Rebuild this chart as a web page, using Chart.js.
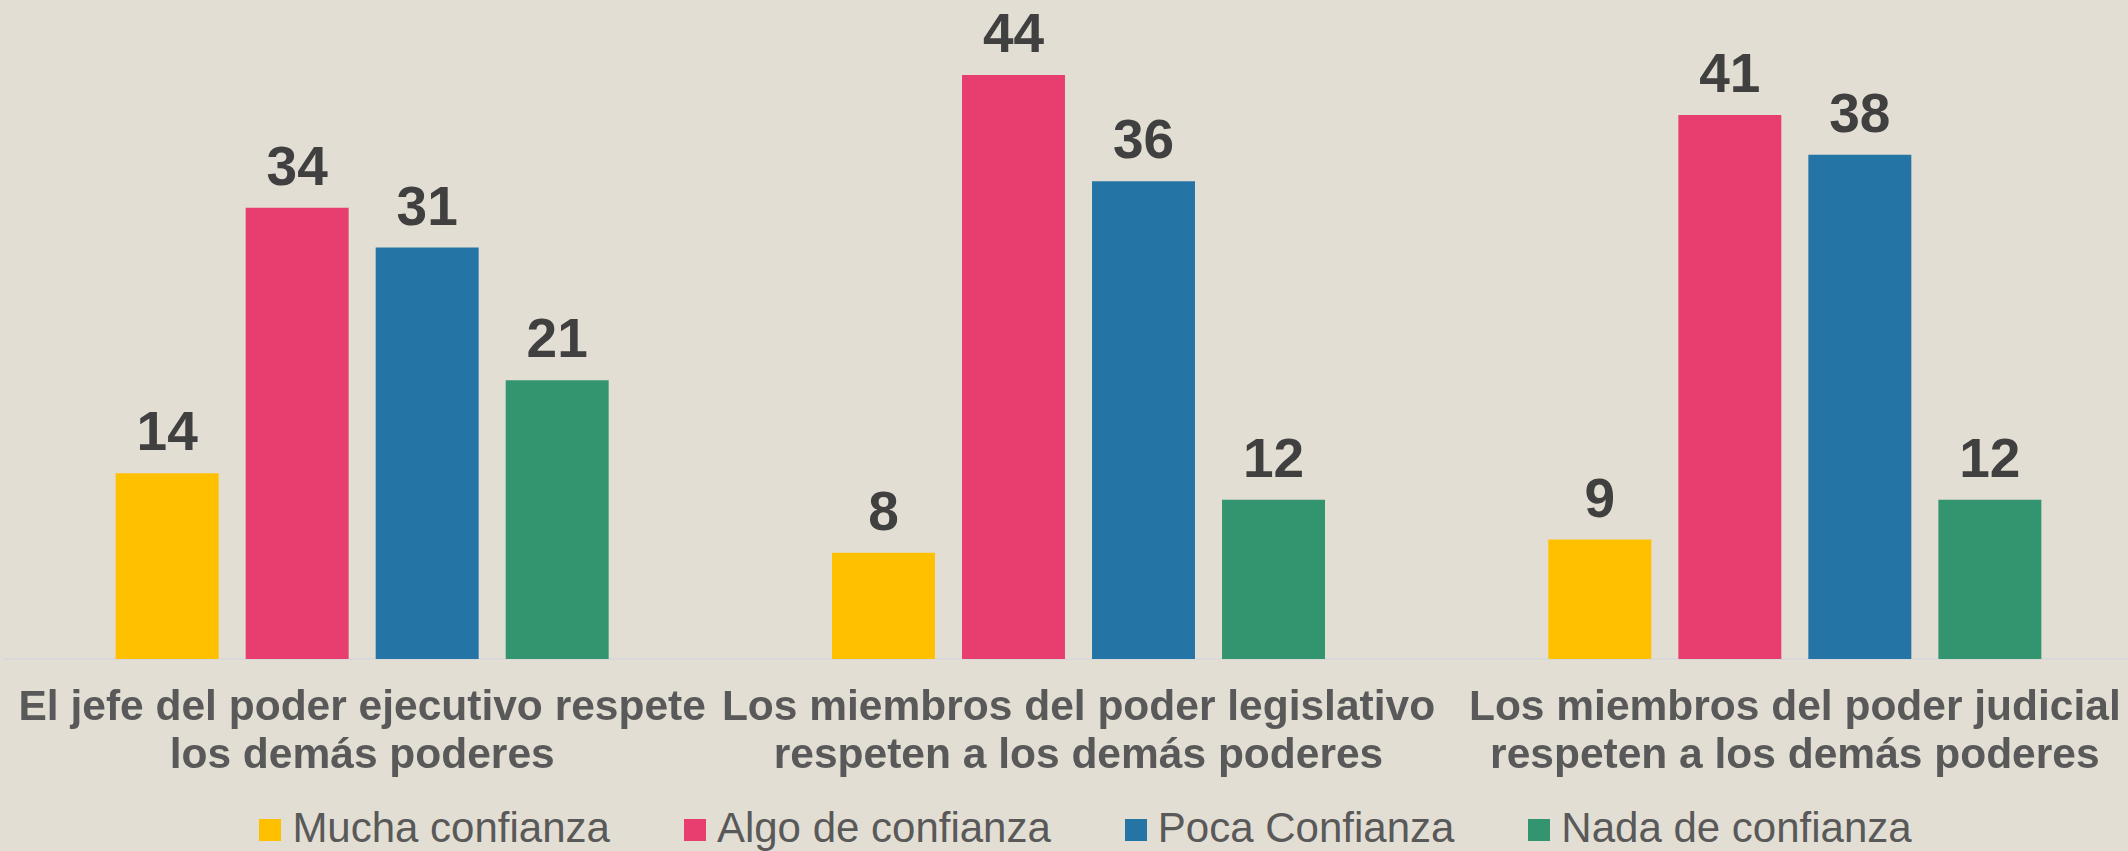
<!DOCTYPE html>
<html lang="es">
<head>
<meta charset="utf-8">
<title>Confianza en el respeto entre poderes</title>
<script src="https://cdn.jsdelivr.net/npm/chart.js@4/dist/chart.umd.min.js"></script>
<style>
  html, body {
    margin: 0;
    padding: 0;
    background: #E3DED3;
    overflow: hidden;
    width: 2128px;
    height: 851px;
  }
  .chart-wrap {
    position: relative;
    width: 2157px;
    height: 851px;
  }
  .chart-legend {
    position: absolute;
    top: 807px;
    left: 0;
    width: 2171px;
    height: 42px;
    display: flex;
    justify-content: center;
    align-items: center;
    font-family: Arial, "Liberation Sans", sans-serif;
    font-size: 42px;
    line-height: 42px;
    color: #595959;
    white-space: nowrap;
  }
  .chart-legend__item {
    display: flex;
    align-items: center;
    margin-left: 74px;
  }
  .chart-legend__item:first-child { margin-left: 0; }
  .chart-legend__box {
    width: 22px;
    height: 22px;
    margin-right: 11px;
    position: relative;
    top: 2px;
  }
</style>
</head>
<body>
<div class="chart-wrap">
  <canvas id="confianzaChart" width="2157" height="782"></canvas>
  <div class="chart-legend" id="confianzaLegend"></div>
</div>
<script>
/* ============================================
   Confianza — respeto entre poderes
   Grouped bar chart, values in %
   ============================================ */

// Categories (two lines each)
const categorias = [
  ['El jefe del poder ejecutivo respete', 'los demás poderes'],
  ['Los miembros del poder legislativo', 'respeten a los demás poderes'],
  ['Los miembros del poder judicial', 'respeten a los demás poderes']
];

// Series
const seriesNombres = ['Mucha confianza', 'Algo de confianza', 'Poca Confianza', 'Nada de confianza'];
const muchaConfianza = [14, 8, 9];
const algoConfianza = [34, 44, 41];
const pocaConfianza = [31, 36, 38];
const nadaConfianza = [21, 12, 12];

const colores = ['#FFC000', '#E83E6F', '#2474A5', '#33956F'];

const FONT = 'Arial, "Liberation Sans", sans-serif';

// Simple value labels on top of each bar
const valueLabels = {
  id: 'valueLabels',
  afterDatasetsDraw(chart) {
    const { ctx } = chart;
    ctx.save();
    ctx.font = 'bold 55px ' + FONT;
    ctx.fillStyle = '#404040';
    ctx.textAlign = 'center';
    ctx.textBaseline = 'alphabetic';
    chart.data.datasets.forEach((ds, i) => {
      const meta = chart.getDatasetMeta(i);
      meta.data.forEach((bar, j) => {
        ctx.fillText(String(ds.data[j]), bar.x, bar.y - 23);
      });
    });
    ctx.restore();
  }
};

const ctx = document.getElementById('confianzaChart');

const confianzaChart = new Chart(ctx, {
  type: 'bar',
  data: {
    labels: categorias,
    datasets: [muchaConfianza, algoConfianza, pocaConfianza, nadaConfianza].map((data, i) => ({
      label: seriesNombres[i],
      data: data,
      backgroundColor: colores[i],
      borderWidth: 0,
      categoryPercentage: 0.726,
      barPercentage: 0.792
    }))
  },
  options: {
    responsive: false,
    animation: false,
    devicePixelRatio: 1,
    layout: { padding: { left: 4, right: 4, top: 0, bottom: 0 } },
    plugins: {
      legend: { display: false },
      tooltip: { enabled: false }
    },
    scales: {
      x: {
        grid: { display: false, drawTicks: false },
        border: { display: true, color: '#D9D9D9', width: 2 },
        ticks: {
          color: '#595959',
          padding: 25,
          maxRotation: 0,
          autoSkip: false,
          font: { family: FONT, size: 42.5, weight: 'bold', lineHeight: 48 / 42.5 }
        },
        afterFit(scale) {
          // labels may overhang the category edges, keep the plot full width
          scale.paddingLeft = 0;
          scale.paddingRight = 0;
          // padding + two label lines only
          scale.height = 123;
        }
      },
      y: {
        display: false,
        min: 0,
        max: 49.66
      }
    }
  },
  plugins: [valueLabels]
});

// HTML legend built from the chart's datasets
const legendEl = document.getElementById('confianzaLegend');
legendEl.innerHTML = confianzaChart.data.datasets.map(ds => `
  <div class="chart-legend__item">
    <span class="chart-legend__box" style="background:${ds.backgroundColor}"></span>
    <span>${ds.label}</span>
  </div>
`).join('');
</script>
</body>
</html>
